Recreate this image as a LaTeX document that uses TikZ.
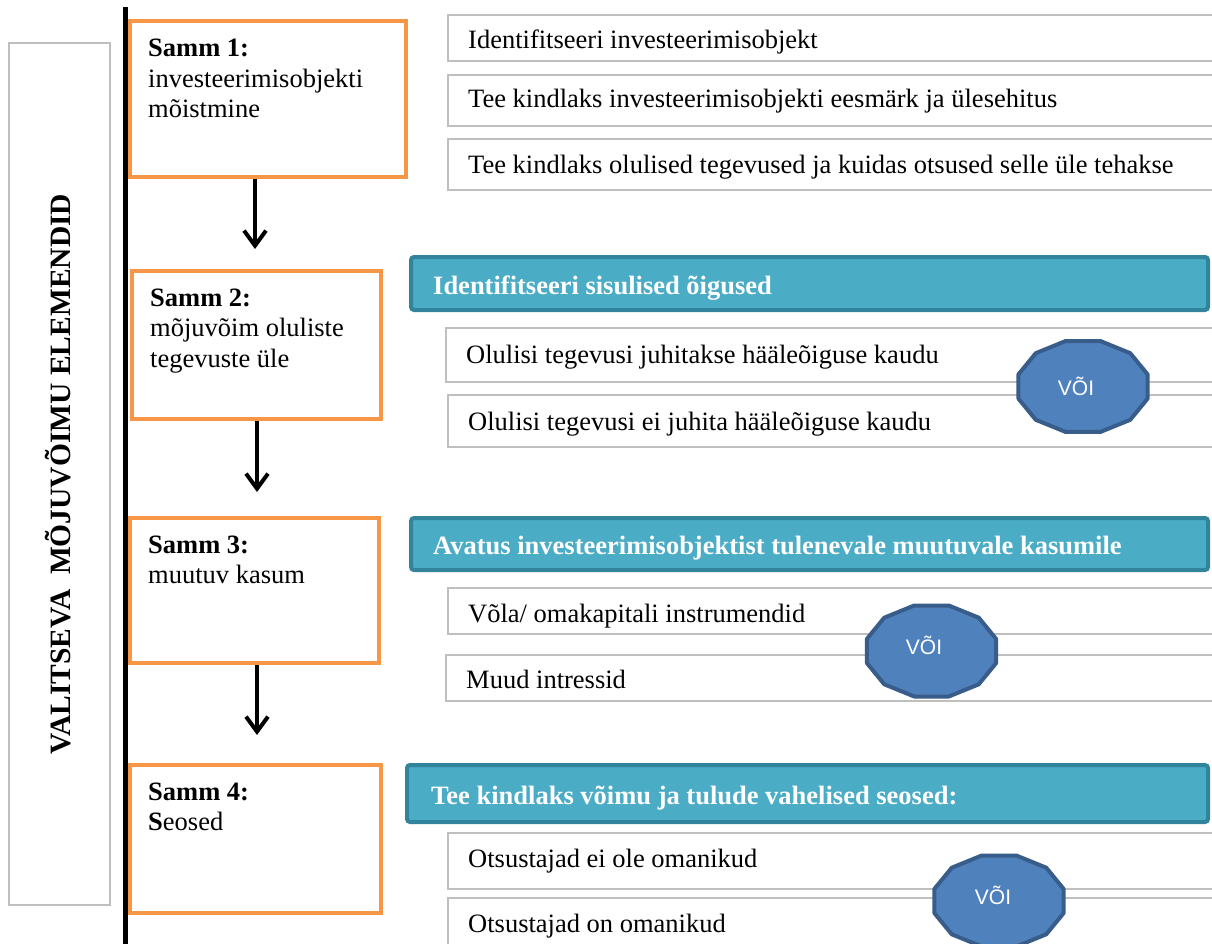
\documentclass[tikz,border=0pt]{standalone}
\usepackage{fontspec}
\setmainfont{Liberation Serif}
\newfontfamily\sansf{Liberation Sans}
\usetikzlibrary{arrows.meta}
\definecolor{orng}{HTML}{F79646}
\definecolor{tealfill}{HTML}{4BACC6}
\definecolor{tealline}{HTML}{31849B}
\definecolor{boxgray}{HTML}{BFBFBF}
\definecolor{vorfill}{HTML}{4F81BD}
\definecolor{vorline}{HTML}{385D8A}
\newcommand\bodyfs{\fontsize{26.5pt}{30.5pt}\selectfont}
\newcommand\vorgon[2]{\draw[vorshape] plot[samples at={15,45,...,345}] ({#1+66.8*cos(\x)},{#2+47.1*sin(\x)}) -- cycle;}
\tikzset{
 stepbox/.style={draw=orng, line width=4pt, rectangle, inner sep=0pt},
 steptext/.style={anchor=base west, align=left, inner sep=0pt, font=\bodyfs},
 itembox/.style={draw=boxgray, line width=2pt, fill=white, rectangle, inner sep=0pt},
 itemtext/.style={anchor=base west, inner sep=0pt, font=\bodyfs},
 headbox/.style={draw=tealline, fill=tealfill, line width=4pt, rounded corners=3pt, rectangle, inner sep=0pt},
 headtext/.style={anchor=base west, inner sep=0pt, font=\bodyfs\bfseries, text=white},
 vorshape/.style={draw=vorline, fill=vorfill, line width=4pt, line join=round},
 vortext/.style={anchor=base, inner sep=0pt, font=\sansf\fontsize{21pt}{24pt}\selectfont, text=white},
 flowarrow/.style={line width=4pt, -{Straight Barb[length=15pt,width=22pt]}},
}
\begin{document}
\begin{tikzpicture}[x=1pt,y=-1pt]
\useasboundingbox (0,0) rectangle (1212,944);
\clip (0,0) rectangle (1212,944);
\fill[white] (0,0) rectangle (1212,944);

% left title box
\node[draw=boxgray, line width=2pt, rectangle, inner sep=0pt, minimum width=101pt, minimum height=862pt] (side) at (59.5,474) {};
\node[rotate=90, anchor=base, inner sep=0pt, font=\fontsize{29.5pt}{32pt}\selectfont\bfseries] (title) at (70,474) {VALITSEVA~ MÕJUVÕIMU ELEMENDID};

% vertical line
\coordinate (ltop) at (125,7);
\coordinate (lbot) at (125,950);
\draw[line width=5pt] (ltop) -- (lbot);

% step boxes
\node[stepbox, minimum width=276pt, minimum height=156pt] (s1) at (268,99) {};
\node[stepbox, minimum width=249pt, minimum height=148pt] (s2) at (256.5,345) {};
\node[stepbox, minimum width=249pt, minimum height=145pt] (s3) at (254.5,590.5) {};
\node[stepbox, minimum width=251pt, minimum height=148pt] (s4) at (255.5,839) {};
\node[steptext] (s1t) at (148,118) {\textbf{Samm 1:}\\investeerimisobjekti\\mõistmine};
\node[steptext] (s2t) at (150,367) {\textbf{Samm 2:}\\mõjuvõim oluliste\\tegevuste üle};
\node[steptext] (s3t) at (148,583.5) {\textbf{Samm 3:}\\muutuv kasum};
\node[steptext] (s4t) at (148,830.5) {\textbf{Samm 4:}\\\textbf{S}eosed};

% arrows
\coordinate (a1e) at (255,249);
\coordinate (a2e) at (257,492);
\coordinate (a3e) at (257,735);
\draw[flowarrow] (s1.south -| a1e) -- (a1e);
\draw[flowarrow] (s2.south -| a2e) -- (a2e);
\draw[flowarrow] (s3.south -| a3e) -- (a3e);

% step 1 items
\node[itembox, minimum width=782pt, minimum height=46pt] (g1) at (839,38) {};
\node[itembox, minimum width=782pt, minimum height=51pt] (g2) at (839,100.5) {};
\node[itembox, minimum width=782pt, minimum height=51pt] (g3) at (839,164.5) {};
\node[itemtext] (g1t) at (468,49) {Identifitseeri investeerimisobjekt};
\node[itemtext] (g2t) at (468,108) {Tee kindlaks investeerimisobjekti eesmärk ja ülesehitus};
\node[itemtext] (g3t) at (468,174) {Tee kindlaks olulised tegevused ja kuidas otsused selle üle tehakse};

% headers
\node[headbox, minimum width=797pt, minimum height=53pt] (h2) at (809.5,283.5) {};
\node[headbox, minimum width=797pt, minimum height=52pt] (h3) at (809.5,544) {};
\node[headbox, minimum width=801pt, minimum height=57pt] (h4) at (807.5,793.5) {};
\node[headtext] (h2t) at (433,294) {Identifitseeri sisulised õigused};
\node[headtext] (h3t) at (433,554) {Avatus investeerimisobjektist tulenevale muutuvale kasumile};
\node[headtext] (h4t) at (431,804) {Tee kindlaks võimu ja tulude vahelised seosed:};

% step 2 items
\node[itembox, minimum width=784pt, minimum height=54pt] (b21) at (838,355) {};
\node[itembox, minimum width=782pt, minimum height=52pt] (b22) at (839,421) {};
\node[itemtext] (b21t) at (466,363) {Olulisi tegevusi juhitakse hääleõiguse kaudu};
\node[itemtext] (b22t) at (468,430) {Olulisi tegevusi ei juhita hääleõiguse kaudu};

% step 3 items
\node[itembox, minimum width=782pt, minimum height=46pt] (b31) at (839,611) {};
\node[itembox, minimum width=784pt, minimum height=46pt] (b32) at (838,678) {};
\node[itemtext] (b31t) at (468,622) {Võla/ omakapitali instrumendid};
\node[itemtext] (b32t) at (466,688) {Muud intressid};

% step 4 items
\node[itembox, minimum width=782pt, minimum height=56pt] (b41) at (839,861) {};
\node[itembox, minimum width=782pt, minimum height=62pt] (b42) at (839,929) {};
\node[itemtext] (b41t) at (468,867) {Otsustajad ei ole omanikud};
\node[itemtext] (b42t) at (468,932) {Otsustajad on omanikud};

% VÕI shapes
\vorgon{1083}{386.5}
\node[vortext] (v1) at (1076,395) {VÕI};
\vorgon{931.5}{651}
\node[vortext] (v2) at (924,654) {VÕI};
\vorgon{999}{901}
\node[vortext] (v3) at (993,904) {VÕI};
\end{tikzpicture}
\end{document}
